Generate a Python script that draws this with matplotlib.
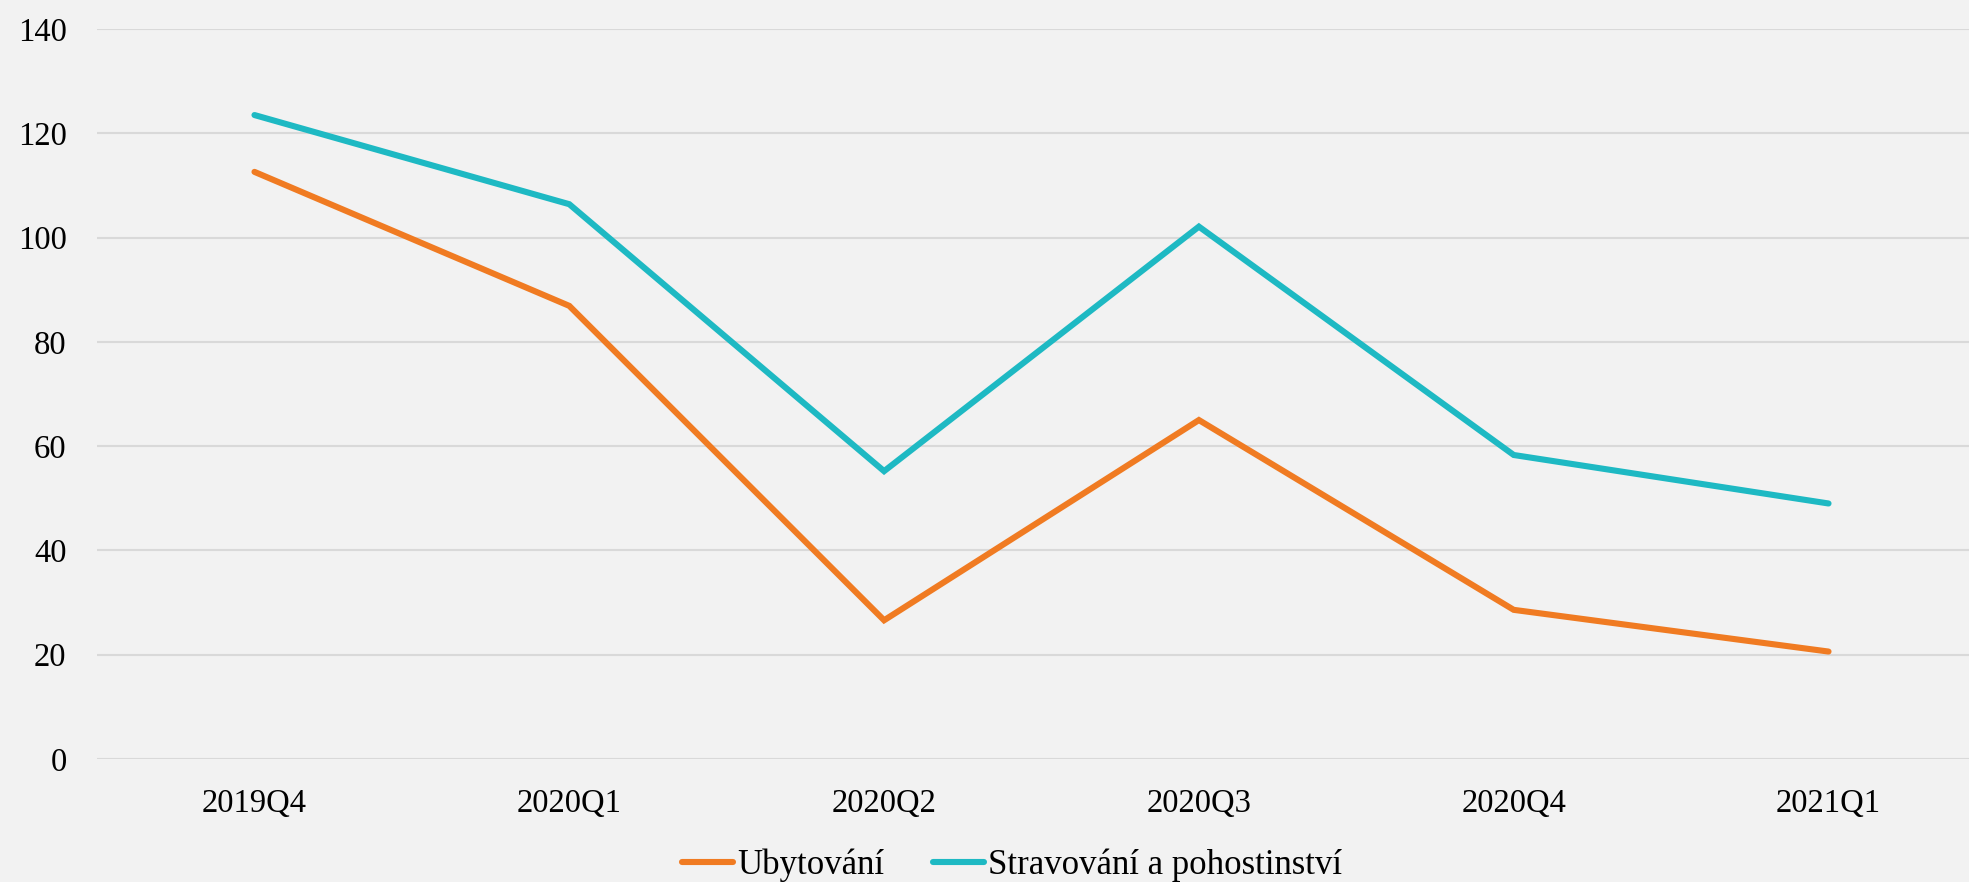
import matplotlib
matplotlib.use('Agg')
import matplotlib.pyplot as plt

# quarters and index values
quarters = ['2019Q4', '2020Q1', '2020Q2', '2020Q3', '2020Q4', '2021Q1']
ubytovani = [112.6, 86.9, 26.6, 65.0, 28.6, 20.6]
stravovani = [123.5, 106.4, 55.2, 102.1, 58.3, 49.0]
yticks = [0, 20, 40, 60, 80, 100, 120, 140]

bg = '#F2F2F2'
plt.rcParams['font.family'] = ['Liberation Serif', 'DejaVu Serif']

fig = plt.figure(figsize=(19.69, 8.82), dpi=100, facecolor=bg)
# plot area runs slightly past the right edge, as in the reference
ax = fig.add_axes([0.0493, 0.1395, 0.9593, 0.8276])
ax.set_facecolor(bg)

x = range(len(quarters))
ax.plot(x, ubytovani, color='#F07B22', lw=4.4, solid_capstyle='round',
        solid_joinstyle='miter', label='Ubytování', zorder=3)
ax.plot(x, stravovani, color='#1EB9C3', lw=4.4, solid_capstyle='round',
        solid_joinstyle='miter', label='Stravování a pohostinství', zorder=3)

ax.set_xlim(-0.5, len(quarters) - 0.5)
ax.set_ylim(0, 140)
ax.set_yticks(yticks)
ax.set_xticks(list(x))
ax.set_xticklabels(quarters)
ax.grid(axis='y', color='#D9D9D9', lw=1.5)
ax.set_axisbelow(True)
for s in ax.spines.values():
    s.set_visible(False)
ax.tick_params(axis='both', length=0, labelsize=23.5, colors='black')
ax.tick_params(axis='y', pad=22)
ax.tick_params(axis='x', pad=21)

fig.legend(loc='center', bbox_to_anchor=(0.514, 0.019), ncol=2, frameon=False,
           fontsize=25, handlelength=1.47, handletextpad=0.12, columnspacing=1.4)

fig.savefig('out.png', dpi=100, facecolor=bg)
